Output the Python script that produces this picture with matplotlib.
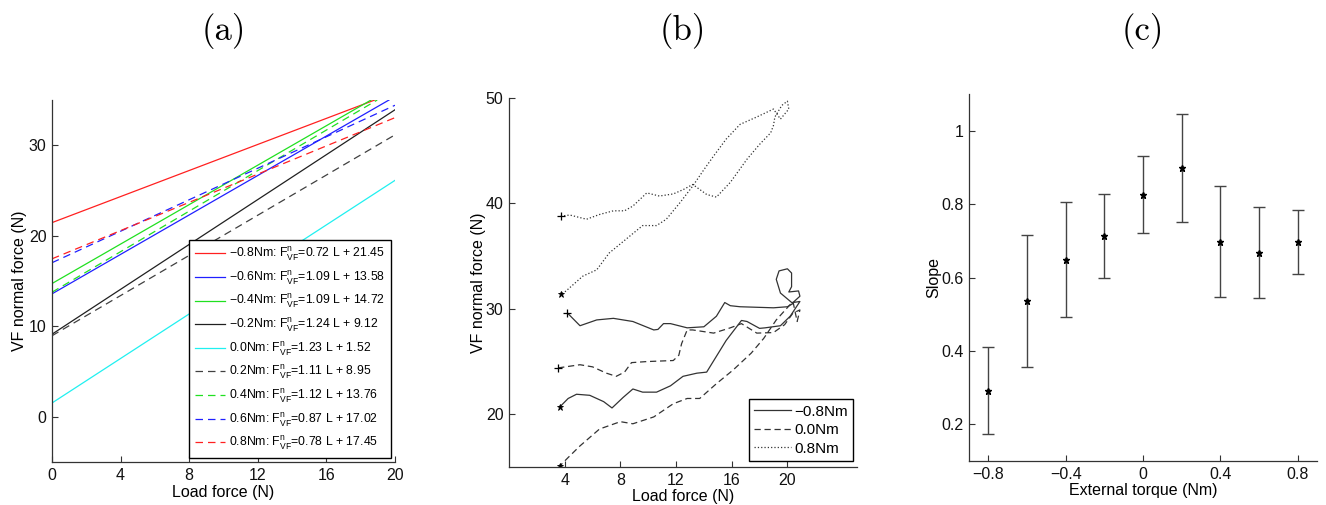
import numpy as np
import matplotlib
matplotlib.use("Agg")
import matplotlib.pyplot as plt

plt.rcParams['font.family'] = ['Liberation Sans', 'DejaVu Sans']
plt.rcParams['mathtext.fontset'] = 'custom'
plt.rcParams['mathtext.rm'] = 'Liberation Sans'
plt.rcParams['mathtext.it'] = 'Liberation Sans'
plt.rcParams['axes.unicode_minus'] = True

# ---------------- data: panel (a) ----------------
torques_a = ["\u22120.8Nm", "\u22120.6Nm", "\u22120.4Nm", "\u22120.2Nm", "0.0Nm",
             "0.2Nm", "0.4Nm", "0.6Nm", "0.8Nm"]
slopes_a = [0.72, 1.09, 1.09, 1.24, 1.23, 1.11, 1.12, 0.87, 0.78]
intercepts_a = [21.45, 13.58, 14.72, 9.12, 1.52, 8.95, 13.76, 17.02, 17.45]
colors_a = ['#ff2020', '#2020ff', '#20e020', '#202020', '#20f0f0',
            '#404040', '#20e020', '#2020ff', '#ff2020']
styles_a = ['-', '-', '-', '-', '-', '--', '--', '--', '--']

# ---------------- data: panel (b) ----------------
solid_x = [4.2, 5.1, 6.3, 7.5, 8.9, 10.4, 10.7, 11.1, 11.6, 12.8, 14.0, 14.9, 15.5, 15.9,
           16.6, 19.0, 20.0, 20.4, 19.5, 19.2, 19.4, 20.0, 20.3, 20.3, 20.1, 20.8, 20.9,
           20.4, 20.9, 20.2, 19.5, 18.4, 18.0, 17.1, 16.7, 15.6, 14.2, 13.5, 12.5, 11.6,
           10.6, 9.6, 8.9, 8.2, 7.4, 6.8, 5.8, 4.85, 4.25, 3.65]
solid_y = [29.6, 28.4, 28.95, 29.1, 28.8, 28.0, 28.05, 28.6, 28.6, 28.2, 28.3, 29.3, 30.6,
           30.3, 30.2, 30.1, 30.2, 30.5, 31.5, 32.8, 33.6, 33.8, 33.4, 32.1, 31.6, 31.7,
           31.2, 30.6, 30.7, 29.3, 28.4, 28.2, 28.15, 28.8, 28.9, 27.0, 24.0, 23.9, 23.6,
           22.7, 22.1, 22.1, 22.4, 21.6, 20.6, 21.2, 21.8, 21.9, 21.5, 20.7]
dash_x = [3.53, 5.1, 6.0, 7.0, 7.7, 8.3, 8.8, 9.9, 11.8, 12.2, 12.4, 12.8, 13.2, 14.7,
          15.9, 16.7, 17.8, 19.0, 19.8, 20.4, 20.9, 20.7, 20.4, 19.2, 18.3, 17.4, 16.1,
          14.9, 13.7, 12.8, 11.8, 10.4, 8.9, 8.0, 6.5, 5.1, 4.25, 3.65]
dash_y = [24.4, 24.7, 24.5, 23.9, 23.6, 24.0, 24.9, 25.0, 25.1, 25.6, 26.7, 28.0, 28.0,
          27.7, 28.2, 28.6, 27.7, 27.75, 28.5, 29.6, 29.9, 28.8, 30.7, 28.95, 27.2, 25.8,
          24.2, 22.9, 21.5, 21.5, 21.0, 19.75, 19.1, 19.3, 18.6, 17.0, 15.9, 15.1]
dot_x = [3.72, 4.37, 5.57, 6.5, 7.5, 8.3, 8.9, 9.9, 10.8, 11.8, 12.5, 13.2, 14.2, 14.9,
         15.9, 17.1, 18.0, 18.8, 19.0, 19.1, 19.6, 20.0, 20.1, 19.5, 19.0, 17.8, 16.6,
         15.6, 14.7, 14.0, 13.2, 12.3, 11.3, 10.6, 9.6, 8.4, 7.2, 6.3, 5.3, 4.1, 3.77]
dot_y = [38.8, 38.9, 38.5, 38.95, 39.3, 39.3, 39.75, 41.0, 40.7, 40.9, 41.3, 41.8, 40.85,
         40.6, 42.0, 44.2, 45.6, 46.7, 47.4, 48.2, 49.3, 49.7, 48.95, 48.0, 48.95, 48.2,
         47.5, 46.1, 44.5, 43.2, 41.65, 40.1, 38.5, 37.9, 37.9, 36.6, 35.3, 33.7, 33.1,
         31.7, 31.4]
labels_b = ["\u22120.8Nm", "0.0Nm", "0.8Nm"]

# ---------------- data: panel (c) ----------------
torque_c = [-0.8, -0.6, -0.4, -0.2, 0.0, 0.2, 0.4, 0.6, 0.8]
slope_mean = [0.292, 0.535, 0.648, 0.713, 0.825, 0.898, 0.697, 0.667, 0.696]
slope_lo = [0.174, 0.355, 0.492, 0.598, 0.720, 0.751, 0.547, 0.543, 0.609]
slope_hi = [0.410, 0.715, 0.806, 0.827, 0.931, 1.045, 0.848, 0.792, 0.785]

W, H = 1326, 505
fig = plt.figure(figsize=(W / 100, H / 100), dpi=100)


def px_axes(l, t, r, b):
    return fig.add_axes([l / W, 1 - b / H, (r - l) / W, (b - t) / H])


def style(ax):
    for s in ('top', 'right'):
        ax.spines[s].set_visible(False)
    for s in ('left', 'bottom'):
        ax.spines[s].set_linewidth(0.9)
        ax.spines[s].set_color('#333333')
    ax.tick_params(direction='in', length=4, width=0.8, labelsize=11.5, colors='#333333',
                   labelcolor='#111111', pad=4)


TFS = 11.5

# ---------------- panel (a) ----------------
axa = px_axes(52, 100, 395, 462)
for lab, m, b, c, ls in zip(torques_a, slopes_a, intercepts_a, colors_a, styles_a):
    axa.axline((0, b), slope=m, color=c, ls=ls, lw=0.9,
               dashes=(6, 4) if ls == '--' else (None, None),
               label=lab + r': $\mathrm{F}^{\mathrm{n}}_{\mathrm{VF}}$' + f'={m:.2f} L + {b:.2f}')
axa.set_xlim(0, 20)
axa.set_ylim(-5, 35)
axa.set_xticks([0, 4, 8, 12, 16, 20])
axa.set_yticks([0, 10, 20, 30])
style(axa)
axa.set_xlabel('Load force (N)', fontsize=TFS, labelpad=2)
axa.set_ylabel('VF normal force (N)', fontsize=TFS, labelpad=1)
leg = axa.legend(loc='lower right', bbox_to_anchor=(0.987, 0.012), fontsize=8.8,
                 fancybox=False, framealpha=1, edgecolor='k', handlelength=2.5,
                 labelspacing=0.5, borderpad=0.45, handletextpad=0.3, borderaxespad=0)
leg.get_frame().set_linewidth(1.0)

# ---------------- panel (b) ----------------
axb = px_axes(509, 98, 857, 467)
gray = '#333333'
axb.plot(solid_x, solid_y, color=gray, lw=0.9, ls='-', label=labels_b[0])
axb.plot(dash_x, dash_y, color=gray, lw=0.9, ls='--', dashes=(5, 3), label=labels_b[1])
axb.plot(dot_x, dot_y, color=gray, lw=0.9, ls=':', label=labels_b[2])
for xs, ys in ((solid_x, solid_y), (dash_x, dash_y), (dot_x, dot_y)):
    axb.plot(xs[0], ys[0], marker='+', color='k', ms=6, mew=0.9)
    axb.plot(xs[-1], ys[-1], marker='*', color='k', ms=5, mew=0.6)
axb.set_xlim(0, 25)
axb.set_ylim(15, 50)
axb.set_xticks([4, 8, 12, 16, 20])
axb.set_yticks([20, 30, 40, 50])
style(axb)
axb.set_xlabel('Load force (N)', fontsize=TFS, labelpad=1)
axb.set_ylabel('VF normal force (N)', fontsize=TFS, labelpad=0)
handles, labels = axb.get_legend_handles_labels()
legb = axb.legend(handles[:3], labels[:3], loc='lower right', bbox_to_anchor=(0.989, 0.016),
                  fontsize=11, fancybox=False, framealpha=1, edgecolor='k',
                  handlelength=2.4, labelspacing=0.3, borderpad=0.35,
                  handletextpad=0.2, borderaxespad=0)
legb.get_frame().set_linewidth(1.0)

# ---------------- panel (c) ----------------
axc = px_axes(969, 94, 1317, 461)
yerr = [np.array(slope_mean) - np.array(slope_lo), np.array(slope_hi) - np.array(slope_mean)]
axc.errorbar(torque_c, slope_mean, yerr=yerr, fmt='*', color='k', ecolor='#444444',
             elinewidth=1.0, capsize=4, capthick=1.0, ms=5)
axc.set_xlim(-0.9, 0.9)
axc.set_ylim(0.1, 1.1)
axc.set_xticks([-0.8, -0.4, 0, 0.4, 0.8])
axc.set_xticklabels(['\u22120.8', '\u22120.4', '0', '0.4', '0.8'])
axc.set_yticks([0.2, 0.4, 0.6, 0.8, 1.0])
axc.set_yticklabels(['0.2', '0.4', '0.6', '0.8', '1'])
style(axc)
axc.set_xlabel('External torque (Nm)', fontsize=TFS, labelpad=1)
axc.set_ylabel('Slope', fontsize=TFS, labelpad=0)

# titles
for ax, t in ((axa, '(a)'), (axb, '(b)'), (axc, '(c)')):
    bb = ax.get_position()
    fig.text((bb.x0 + bb.x1) / 2, 1 - 31 / H, t, ha='center', va='center',
             fontsize=25, family=['cmr10', 'DejaVu Serif'])

fig.savefig('out.png', dpi=100)
